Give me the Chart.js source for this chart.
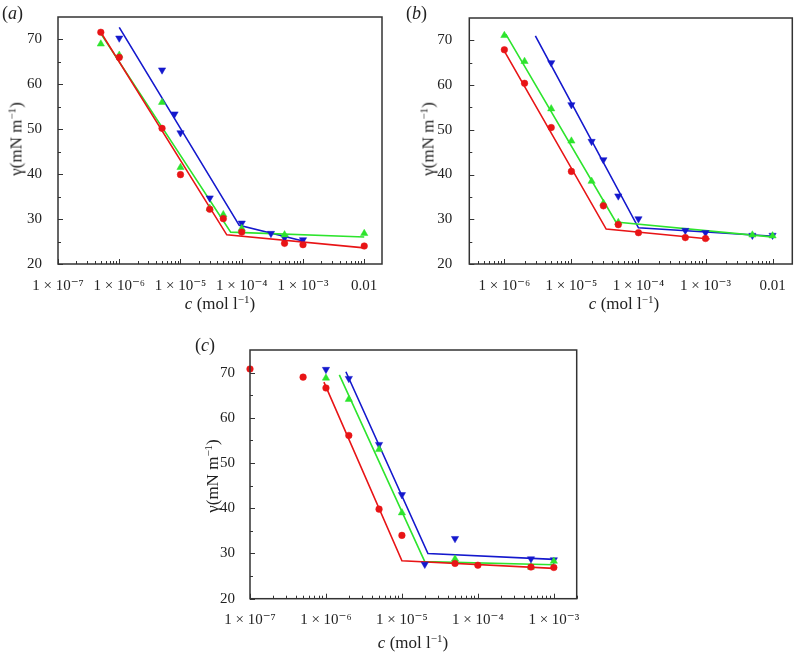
<!DOCTYPE html>
<html lang="en">
<head>
<meta charset="UTF-8" />
<title>Surface tension against concentration</title>
<script src="https://cdn.jsdelivr.net/npm/chart.js@4"></script>
<style>
  body { margin: 0; background: #fff; }
  #fig { position: relative; width: 797px; height: 653px; font-family: 'Liberation Serif', 'DejaVu Serif', serif; color: #222; }
  #fig canvas { position: absolute; }
  .t { position: absolute; white-space: nowrap; font-size: 17px; line-height: 1; transform: translate(-50%, -50%); }
  .ty { transform: translate(-50%, -50%) rotate(-90deg); }
  .pan { position: absolute; font-size: 18px; line-height: 1; }
  sup { font-size: 11px; line-height: 0; vertical-align: 6px; }
</style>
</head>
<body>
<div id="fig">
  <canvas id="ca" width="390" height="320" style="left:0;top:0"></canvas>
  <canvas id="cb" width="397" height="320" style="left:400px;top:0"></canvas>
  <canvas id="cc" width="420" height="333" style="left:180px;top:320px"></canvas>

  <div class="pan" style="left:2px;top:4px">(<i>a</i>)</div>
  <div class="pan" style="left:406px;top:4px">(<i>b</i>)</div>
  <div class="pan" style="left:195px;top:336px">(<i>c</i>)</div>

  <div class="t ty" style="left:16px;top:139px">γ(mN m<sup>−1</sup>)</div>
  <div class="t ty" style="left:428px;top:139px">γ(mN m<sup>−1</sup>)</div>
  <div class="t ty" style="left:212px;top:476px">γ(mN m<sup>−1</sup>)</div>

  <div class="t" style="left:220px;top:303px"><i>c</i> (mol l<sup>−1</sup>)</div>
  <div class="t" style="left:624px;top:303px"><i>c</i> (mol l<sup>−1</sup>)</div>
  <div class="t" style="left:413px;top:642px"><i>c</i> (mol l<sup>−1</sup>)</div>
</div>

<script>
// ---- panel (a) ----
const aRedX = [5e-7, 1e-6, 5e-6, 1e-5, 3e-5, 5e-5, 1e-4, 5e-4, 1e-3, 1e-2];
const aRedY = [71.6, 66.0, 50.2, 39.9, 32.2, 30.1, 27.1, 24.6, 24.3, 24.0];
const aGreenX = [5e-7, 1e-6, 5e-6, 1e-5, 3e-5, 5e-5, 1e-4, 5e-4, 1e-2];
const aGreenY = [69.0, 66.5, 56.0, 41.5, 32.4, 31.0, 27.9, 26.5, 26.8];
const aBlueX = [1e-6, 5e-6, 8e-6, 1e-5, 3e-5, 1e-4, 3e-4, 5e-4, 1e-3];
const aBlueY = [70.3, 63.2, 53.4, 49.2, 34.7, 29.1, 26.8, 25.8, 25.4];
const aRedFitX = [5e-7, 5.7e-5, 1e-2];
const aRedFitY = [71.6, 26.5, 23.6];
const aGreenFitX = [5e-7, 6.6e-5, 1e-2];
const aGreenFitY = [71.3, 27.1, 26.0];
const aBlueFitX = [1e-6, 9.1e-5, 1e-3];
const aBlueFitY = [72.7, 28.6, 25.1];

// ---- panel (b) ----
const bRedX = [1e-6, 2e-6, 5e-6, 1e-5, 3e-5, 5e-5, 1e-4, 5e-4, 1e-3];
const bRedY = [67.9, 60.4, 50.5, 40.7, 33.0, 28.8, 27.0, 25.9, 25.7];
const bGreenX = [1e-6, 2e-6, 5e-6, 1e-5, 2e-5, 3e-5, 5e-5, 5e-3, 1e-2];
const bGreenY = [71.1, 65.3, 54.7, 47.5, 38.5, 33.6, 29.3, 26.5, 26.3];
const bBlueX = [5e-6, 1e-5, 2e-5, 3e-5, 5e-5, 1e-4, 5e-4, 1e-3, 5e-3, 1e-2];
const bBlueY = [65.0, 55.6, 47.4, 43.3, 35.2, 30.1, 27.5, 27.0, 26.4, 26.4];
const bRedFitX = [1e-6, 3.3e-5, 1.15e-3];
const bRedFitY = [67.6, 27.8, 25.6];
const bGreenFitX = [1.05e-6, 4.6e-5, 1.05e-2];
const bGreenFitY = [71.4, 29.4, 26.0];
const bBlueFitX = [2.9e-6, 1e-4, 1.05e-2];
const bBlueFitY = [71.0, 28.1, 26.2];

// ---- panel (c) ----
const cRedX = [1e-7, 5e-7, 1e-6, 2e-6, 5e-6, 1e-5, 5e-5, 1e-4, 5e-4, 1e-3];
const cRedY = [70.8, 69.0, 66.6, 56.1, 39.8, 34.0, 27.8, 27.4, 27.0, 26.9];
const cGreenX = [1e-6, 2e-6, 5e-6, 1e-5, 5e-5, 5e-4, 1e-3];
const cGreenY = [68.8, 64.1, 53.0, 39.0, 28.8, 27.0, 28.3];
const cBlueX = [1e-6, 2e-6, 5e-6, 1e-5, 2e-5, 5e-5, 5e-4, 1e-3];
const cBlueY = [70.7, 68.7, 54.1, 43.0, 27.6, 33.3, 28.8, 28.6];
const cRedFitX = [9.4e-7, 1e-5, 1e-3];
const cRedFitY = [67.9, 28.4, 26.7];
const cGreenFitX = [1.5e-6, 2e-5, 1e-3];
const cGreenFitY = [69.5, 28.2, 27.5];
const cBlueFitX = [1.83e-6, 2.2e-5, 1e-3];
const cBlueFitY = [70.2, 30.0, 28.7];

const yTicks = [20, 30, 40, 50, 60, 70];

const RED = 'rgb(232,20,22)';
const GREEN = 'rgb(45,228,45)';
const BLUE = 'rgb(20,24,205)';
const FONT = "'Liberation Serif', 'DejaVu Serif', serif";

const sup = { '-': '⁻', '0': '⁰', '1': '¹', '2': '²', '3': '³', '4': '⁴', '5': '⁵', '6': '⁶', '7': '⁷', '8': '⁸', '9': '⁹' };
function decadeLabel(v) {
  const e = Math.round(Math.log10(v));
  if (e === -2) return '0.01';
  return '1 × 10' + String(e).split('').map(ch => sup[ch]).join('');
}

function zip(xs, ys) { return xs.map((x, i) => ({ x: x, y: ys[i] })); }

function points(xs, ys, color, style, rot) {
  return {
    data: zip(xs, ys), showLine: false, clip: false,
    pointStyle: style, rotation: rot || 0,
    pointRadius: style === 'circle' ? 3.3 : 4.2,
    pointBackgroundColor: color, pointBorderColor: color, pointBorderWidth: 0.5
  };
}
function fit(xs, ys, color) {
  return {
    data: zip(xs, ys), showLine: true, pointRadius: 0,
    borderColor: color, borderWidth: 1.6, clip: false
  };
}

// inward ticks and full frame box
const frameTicks = {
  id: 'frameTicks',
  afterDatasetsDraw(chart) {
    const { ctx, chartArea: a, scales: { x, y } } = chart;
    ctx.save();
    ctx.strokeStyle = '#333';
    ctx.lineWidth = 1;
    ctx.beginPath();
    for (let d = -8; d <= -1; d++) {
      for (let k = 1; k <= 9; k++) {
        const v = k * Math.pow(10, d);
        if (v < x.min * 0.999 || v > x.max * 1.001) continue;
        const px = Math.round(x.getPixelForValue(v)) + 0.5;
        const len = k === 1 ? 5 : 3;
        ctx.moveTo(px, a.bottom);
        ctx.lineTo(px, a.bottom - len);
      }
    }
    for (let v = 20; v < 75; v += 5) {
      const py = Math.round(y.getPixelForValue(v)) + 0.5;
      const len = v % 10 === 0 ? 5 : 3;
      ctx.moveTo(a.left, py);
      ctx.lineTo(a.left + len, py);
    }
    ctx.stroke();
    ctx.lineWidth = 1.5;
    ctx.strokeStyle = '#333';
    ctx.strokeRect(a.left, a.top, a.right - a.left, a.bottom - a.top);
    ctx.restore();
  }
};

function makePanel(id, datasets, o) {
  return new Chart(document.getElementById(id), {
    type: 'scatter',
    data: { datasets: datasets },
    options: {
      responsive: false,
      animation: false,
      events: [],
      layout: { padding: { left: 0, top: o.top, right: o.right, bottom: 0 } },
      plugins: { legend: { display: false }, tooltip: { enabled: false } },
      scales: {
        x: {
          type: 'logarithmic', min: o.xMin, max: o.xMax,
          afterBuildTicks: s => { s.ticks = o.decades.map(v => ({ value: v })); },
          afterFit: s => { s.height = o.xh; },
          grid: { display: false }, border: { display: false },
          ticks: {
            autoSkip: false, maxRotation: 0, minRotation: 0, padding: o.xpad,
            color: '#222', font: { family: FONT, size: 15 },
            callback: v => decadeLabel(v)
          }
        },
        y: {
          type: 'linear', min: 20, max: 75,
          afterBuildTicks: s => { s.ticks = yTicks.map(v => ({ value: v })); },
          afterFit: s => { s.width = o.yw; },
          grid: { display: false }, border: { display: false },
          ticks: { padding: o.ypad, color: '#222', font: { family: FONT, size: 15 } }
        }
      }
    },
    plugins: [frameTicks]
  });
}

makePanel('ca', [
  points(aRedX, aRedY, RED, 'circle'),
  points(aGreenX, aGreenY, GREEN, 'triangle'),
  points(aBlueX, aBlueY, BLUE, 'triangle', 180),
  fit(aRedFitX, aRedFitY, RED),
  fit(aGreenFitX, aGreenFitY, GREEN),
  fit(aBlueFitX, aBlueFitY, BLUE)
], { xMin: 1e-7, xMax: 0.0195, decades: [1e-7, 1e-6, 1e-5, 1e-4, 1e-3, 1e-2],
     top: 13.5, right: 8, xh: 56, yw: 58, xpad: 5, ypad: 8 });

makePanel('cb', [
  points(bRedX, bRedY, RED, 'circle'),
  points(bGreenX, bGreenY, GREEN, 'triangle'),
  points(bBlueX, bBlueY, BLUE, 'triangle', 180),
  fit(bRedFitX, bRedFitY, RED),
  fit(bGreenFitX, bGreenFitY, GREEN),
  fit(bBlueFitX, bBlueFitY, BLUE)
], { xMin: 3e-7, xMax: 0.0197, decades: [1e-6, 1e-5, 1e-4, 1e-3, 1e-2],
     top: 14, right: 1, xh: 56, yw: 69.3, xpad: 5, ypad: 9 });

makePanel('cc', [
  points(cRedX, cRedY, RED, 'circle'),
  points(cGreenX, cGreenY, GREEN, 'triangle'),
  points(cBlueX, cBlueY, BLUE, 'triangle', 180),
  fit(cRedFitX, cRedFitY, RED),
  fit(cGreenFitX, cGreenFitY, GREEN),
  fit(cBlueFitX, cBlueFitY, BLUE)
], { xMin: 1e-7, xMax: 2e-3, decades: [1e-7, 1e-6, 1e-5, 1e-4, 1e-3],
     top: 30, right: 23.3, xh: 54.3, yw: 70, xpad: 4, ypad: 7 });
</script>
</body>
</html>
